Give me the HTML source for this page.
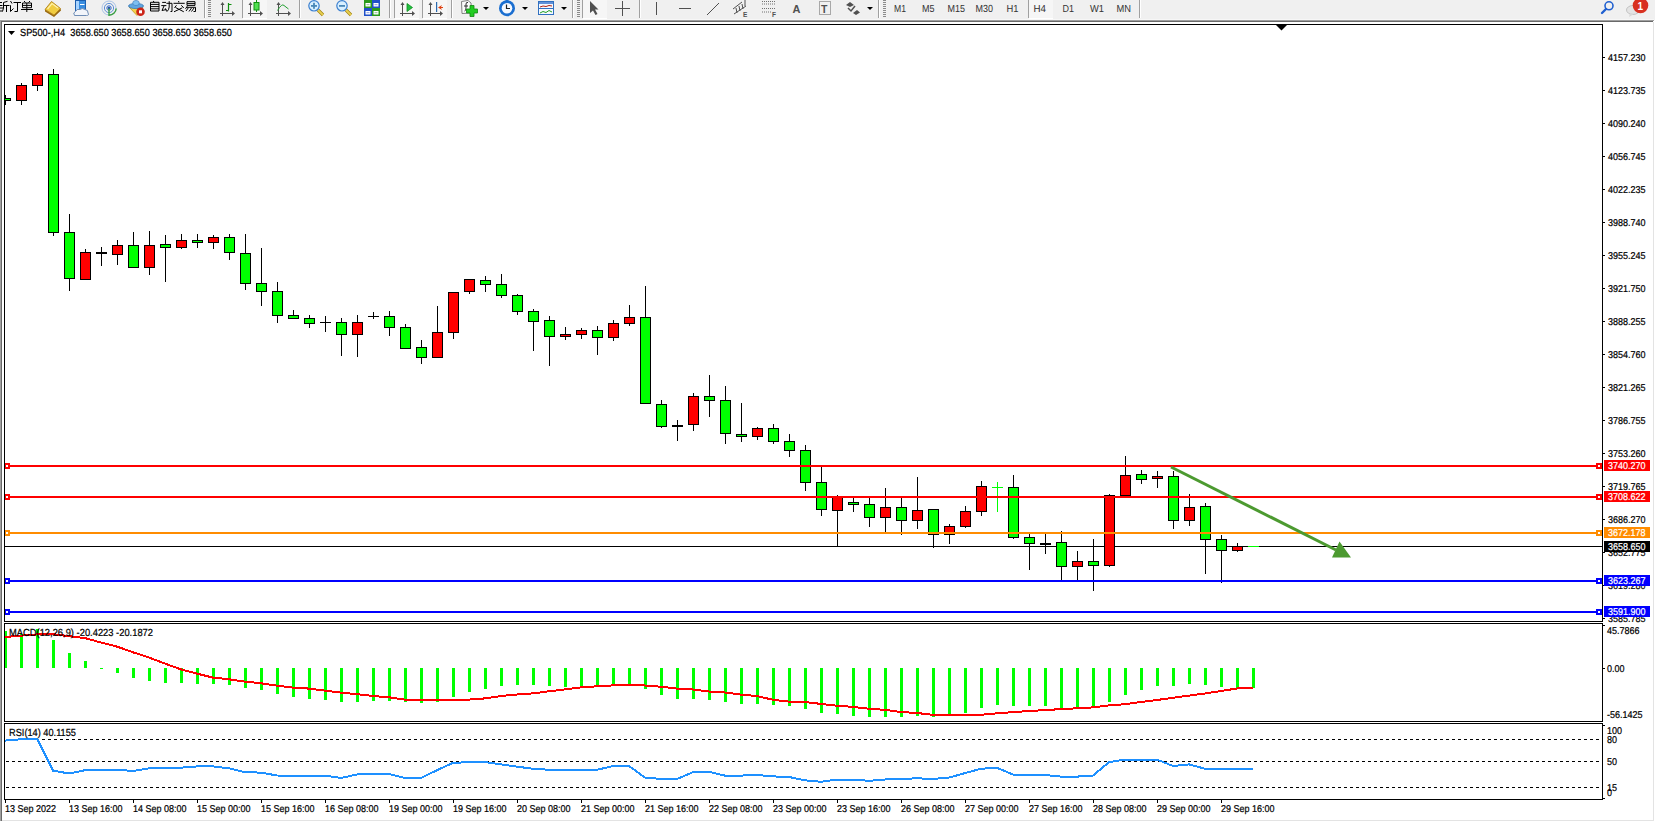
<!DOCTYPE html>
<html><head><meta charset="utf-8"><style>html,body{margin:0;padding:0;background:#fff;overflow:hidden}</style></head>
<body>
<svg width="1655" height="822" viewBox="0 0 1655 822" style="display:block;font-family:'Liberation Sans',sans-serif">
<rect x="0" y="0" width="1655" height="822" fill="#ffffff"/>
<rect x="0" y="0" width="1655" height="20" fill="#f0f0f0"/>
<rect x="0" y="19" width="1654" height="1" fill="#f7f7f7"/>
<rect x="0" y="20" width="1654" height="1" fill="#a0a0a0"/>
<rect x="0" y="21" width="1653" height="1" fill="#696969"/>
<rect x="0" y="20" width="1" height="801" fill="#a0a0a0"/>
<rect x="1" y="21" width="1" height="800" fill="#696969"/>
<rect x="1653" y="22" width="1" height="799" fill="#e3e3e3"/>
<rect x="2" y="820" width="1652" height="1" fill="#e3e3e3"/>
<g shape-rendering="crispEdges">
<rect x="4" y="24" width="1599" height="1" fill="#000"/>
<rect x="4" y="621" width="1599" height="1" fill="#000"/>
<rect x="4" y="24" width="1" height="598" fill="#000"/>
<rect x="1602" y="24" width="1" height="598" fill="#000"/>
<rect x="4" y="623" width="1599" height="1" fill="#000"/>
<rect x="4" y="721" width="1599" height="1" fill="#000"/>
<rect x="4" y="623" width="1" height="99" fill="#000"/>
<rect x="1602" y="623" width="1" height="99" fill="#000"/>
<rect x="4" y="723" width="1599" height="1" fill="#000"/>
<rect x="4" y="799" width="1599" height="1" fill="#000"/>
<rect x="4" y="723" width="1" height="77" fill="#000"/>
<rect x="1602" y="723" width="1" height="77" fill="#000"/>
</g>
<rect x="204" y="0" width="1" height="18" fill="#a0a0a0"/><rect x="205" y="0" width="1" height="18" fill="#ffffff"/>
<rect x="299" y="0" width="1" height="18" fill="#a0a0a0"/><rect x="300" y="0" width="1" height="18" fill="#ffffff"/>
<rect x="389" y="0" width="1" height="18" fill="#a0a0a0"/><rect x="390" y="0" width="1" height="18" fill="#ffffff"/>
<rect x="451" y="0" width="1" height="18" fill="#a0a0a0"/><rect x="452" y="0" width="1" height="18" fill="#ffffff"/>
<rect x="572" y="0" width="1" height="18" fill="#a0a0a0"/><rect x="573" y="0" width="1" height="18" fill="#ffffff"/>
<rect x="639" y="0" width="1" height="18" fill="#a0a0a0"/><rect x="640" y="0" width="1" height="18" fill="#ffffff"/>
<rect x="878" y="0" width="1" height="18" fill="#a0a0a0"/><rect x="879" y="0" width="1" height="18" fill="#ffffff"/>
<rect x="1139" y="0" width="1" height="18" fill="#a0a0a0"/><rect x="1140" y="0" width="1" height="18" fill="#ffffff"/>
<rect x="242" y="0" width="1" height="18" fill="#a0a0a0"/>
<rect x="394" y="0" width="1" height="18" fill="#a0a0a0"/>
<rect x="422" y="0" width="1" height="18" fill="#a0a0a0"/>
<rect x="582" y="0" width="1" height="18" fill="#a0a0a0"/>
<rect x="1028" y="0" width="1" height="18" fill="#a0a0a0"/>
<rect x="208" y="0" width="3" height="1" fill="#8a8a8a"/>
<rect x="208" y="2" width="3" height="1" fill="#8a8a8a"/>
<rect x="208" y="4" width="3" height="1" fill="#8a8a8a"/>
<rect x="208" y="6" width="3" height="1" fill="#8a8a8a"/>
<rect x="208" y="8" width="3" height="1" fill="#8a8a8a"/>
<rect x="208" y="10" width="3" height="1" fill="#8a8a8a"/>
<rect x="208" y="12" width="3" height="1" fill="#8a8a8a"/>
<rect x="208" y="14" width="3" height="1" fill="#8a8a8a"/>
<rect x="208" y="16" width="3" height="1" fill="#8a8a8a"/>
<rect x="577" y="0" width="3" height="1" fill="#8a8a8a"/>
<rect x="577" y="2" width="3" height="1" fill="#8a8a8a"/>
<rect x="577" y="4" width="3" height="1" fill="#8a8a8a"/>
<rect x="577" y="6" width="3" height="1" fill="#8a8a8a"/>
<rect x="577" y="8" width="3" height="1" fill="#8a8a8a"/>
<rect x="577" y="10" width="3" height="1" fill="#8a8a8a"/>
<rect x="577" y="12" width="3" height="1" fill="#8a8a8a"/>
<rect x="577" y="14" width="3" height="1" fill="#8a8a8a"/>
<rect x="577" y="16" width="3" height="1" fill="#8a8a8a"/>
<rect x="883" y="0" width="3" height="1" fill="#8a8a8a"/>
<rect x="883" y="2" width="3" height="1" fill="#8a8a8a"/>
<rect x="883" y="4" width="3" height="1" fill="#8a8a8a"/>
<rect x="883" y="6" width="3" height="1" fill="#8a8a8a"/>
<rect x="883" y="8" width="3" height="1" fill="#8a8a8a"/>
<rect x="883" y="10" width="3" height="1" fill="#8a8a8a"/>
<rect x="883" y="12" width="3" height="1" fill="#8a8a8a"/>
<rect x="883" y="14" width="3" height="1" fill="#8a8a8a"/>
<rect x="883" y="16" width="3" height="1" fill="#8a8a8a"/>
<rect x="243" y="0" width="24" height="18" fill="#f6f6f6"/>
<rect x="243" y="18" width="24" height="1" fill="#ffffff"/>
<rect x="395" y="0" width="24" height="18" fill="#f6f6f6"/>
<rect x="395" y="18" width="24" height="1" fill="#ffffff"/>
<rect x="423" y="0" width="24" height="18" fill="#f6f6f6"/>
<rect x="423" y="18" width="24" height="1" fill="#ffffff"/>
<rect x="583" y="0" width="24" height="18" fill="#f6f6f6"/>
<rect x="583" y="18" width="24" height="1" fill="#ffffff"/>
<rect x="1029" y="0" width="24" height="18" fill="#f6f6f6"/>
<rect x="1029" y="18" width="24" height="1" fill="#ffffff"/>
<path d="M0,2.5 L2,2.5 M0,5.5 L2.5,5.5 M0,8 L3,8 M0,11 L2.5,11 M3.5,2.5 L7.5,1.3 M3.5,2.5 L3.5,8 L2.5,11.5 M3.5,5.5 L9,5.5 M6.5,5.5 L6.5,12 M10.5,1 L12,3.5 M9.5,5.5 L10.5,5.5 L10.5,11.5 L13.5,8.5 M13.5,2.5 L21,2.5 M17.5,2.5 L17.5,11.5 L14.5,11.5 M24,1 L25.5,2.5 M30,1 L28.5,2.5 M22.5,3 L31.5,3 L31.5,7.7 L22.5,7.7 Z M22.5,5.4 L31.5,5.4 M26.8,3 L26.8,12 M21,9.5 L33,9.5 M153,1 L154.5,2.3 M150.5,2.3 L159,2.3 L159,11 L150.5,11 Z M150.5,4.4 L159,4.4 M150.5,6.6 L159,6.6 M150.5,8.8 L159,8.8 M162.2,2.4 L166,2.4 M161.3,5.6 L166.4,5.6 M164,6 L162,10.5 L166.3,9.5 M165.3,8.3 L166.5,11 M166.4,3.3 L172,3.3 L172,11.5 L170.5,11.5 M169.2,1.2 L169.2,7 Q169,10 166.7,11.8 M178.6,1 L178.9,2.5 M173.5,3.3 L184.7,3.3 M176.5,5.3 L174.5,7.8 M181.2,5.3 L183.8,7.8 M175.5,7.5 L183.8,11.8 M182.3,7.8 L174,11.8 M187,1.7 L195,1.7 L195,5.4 L187,5.4 Z M187,3.6 L195,3.6 M187.3,6.2 L185.5,8.8 M186.5,7.3 L195.5,7.3 L195.5,11.5 L193.5,11.5 M188.5,7.6 L186,11 M191.5,8 L189,11.5 M194,8 L191.5,11.5" fill="none" stroke="#000" stroke-width="1" stroke-linejoin="miter"/>
<path d="M45,9.5 L54,15 L60.5,8.5 L61,10.5 L54,17 L45,11.5 Z" fill="#9a6a10"/>
<path d="M45,9.5 L51.5,1.5 L60.5,8.5 L54,15 Z" fill="#f0cc40" stroke="#b08018" stroke-width="0.9"/>
<path d="M47.5,9 L52,3.5 L58,8" fill="none" stroke="#fff2a8" stroke-width="1.2"/>
<rect x="75.5" y="0.5" width="10" height="10" fill="#3a8ee0" stroke="#1c5fb0"/><rect x="76" y="1" width="3" height="9" fill="#a8d4ff"/><rect x="80" y="4" width="4.5" height="1" fill="#fff"/>
<path d="M74.5,15.5 Q72.5,12.5 75.5,11.5 Q76.5,8.5 80,9.5 Q82,7.5 85,9.5 Q88.5,10 88,13 Q89.5,15.5 86.5,15.5 Z" fill="#f2f5fa" stroke="#6f8db5" stroke-width="1"/>
<g fill="none" stroke-width="1"><circle cx="109" cy="8" r="7" stroke="#a9c3e6"/><circle cx="109" cy="8" r="4.6" stroke="#5e8fd6"/><circle cx="109" cy="8" r="2.2" stroke="#3a6fc8"/></g><circle cx="109" cy="8" r="1.3" fill="#2a55b0"/>
<path d="M109,8.5 L109,15.3 A7.2,7.2 0 0 0 116.2,8.5" fill="none" stroke="#3aa040" stroke-width="1.4"/>
<path d="M129,7 L143,7 L137,15.5 Z" fill="#f4d24a" stroke="#c09a20" stroke-width="0.8"/>
<ellipse cx="136" cy="6" rx="7.5" ry="2.6" fill="#5fa6e0" stroke="#3a78b8" stroke-width="0.8"/><ellipse cx="136" cy="3" rx="3.3" ry="2.6" fill="#7ec0f0" stroke="#3a78b8" stroke-width="0.6"/>
<circle cx="140.5" cy="11.8" r="4.3" fill="#cc2418"/><rect x="139" y="10.3" width="3" height="3" fill="#fff"/>
<rect x="222" y="3" width="1" height="13" fill="#505050"/><path d="M220.5,5 L222.5,2 L224.5,5" fill="#505050"/><rect x="220" y="13" width="13" height="1" fill="#505050"/><path d="M232,11 L235,13.5 L232,16" fill="#505050"/>
<path d="M228.5,3 L228.5,11.5 M228.5,4.5 L231.5,4.5 M228.5,10.5 L226,10.5" stroke="#109010" stroke-width="1.2" fill="none"/>
<rect x="250" y="3" width="1" height="13" fill="#505050"/><path d="M248.5,5 L250.5,2 L252.5,5" fill="#505050"/><rect x="248" y="13" width="13" height="1" fill="#505050"/><path d="M260,11 L263,13.5 L260,16" fill="#505050"/>
<rect x="256" y="0" width="1" height="12" fill="#109010"/><rect x="254" y="2.5" width="5" height="7.5" fill="#50e050" stroke="#109010" stroke-width="1"/>
<rect x="278" y="3" width="1" height="13" fill="#505050"/><path d="M276.5,5 L278.5,2 L280.5,5" fill="#505050"/><rect x="276" y="13" width="13" height="1" fill="#505050"/><path d="M288,11 L291,13.5 L288,16" fill="#505050"/>
<path d="M277.5,10.5 Q282,3 284,5.5 L288.5,9" stroke="#20a030" stroke-width="1" fill="none"/>
<line x1="318" y1="10" x2="323" y2="15" stroke="#a08010" stroke-width="3.2"/><line x1="318" y1="10" x2="323" y2="15" stroke="#e8d050" stroke-width="1.8"/>
<circle cx="314" cy="5.8" r="5.2" fill="#d8efff" stroke="#3a7fd0" stroke-width="1.2"/>
<rect x="311" y="5" width="6" height="1.8" fill="#4a88b8"/>
<rect x="313.1" y="2.8" width="1.8" height="6" fill="#4a88b8"/>
<line x1="346" y1="10" x2="351" y2="15" stroke="#a08010" stroke-width="3.2"/><line x1="346" y1="10" x2="351" y2="15" stroke="#e8d050" stroke-width="1.8"/>
<circle cx="342" cy="5.8" r="5.2" fill="#d8efff" stroke="#3a7fd0" stroke-width="1.2"/>
<rect x="339" y="5" width="6" height="1.8" fill="#4a88b8"/>
<g transform="translate(364,0)"><rect x="0" y="0" width="8" height="8" fill="#2a9a1a"/><rect x="8" y="0" width="8" height="8" fill="#2050c8"/><rect x="0" y="8" width="8" height="8" fill="#2050c8"/><rect x="8" y="8" width="8" height="8" fill="#2a9a1a"/><rect x="1.5" y="3" width="5" height="3.5" fill="#fff"/><rect x="9.5" y="3" width="5" height="3.5" fill="#fff"/><rect x="1.5" y="11" width="5" height="3.5" fill="#fff"/><rect x="9.5" y="11" width="5" height="3.5" fill="#fff"/><rect x="2.5" y="4.2" width="3" height="1" fill="#8fc08f"/><rect x="10.5" y="4.2" width="3" height="1" fill="#8fa0d8"/><rect x="2.5" y="12.2" width="3" height="1" fill="#8fa0d8"/><rect x="10.5" y="12.2" width="3" height="1" fill="#8fc08f"/></g>
<rect x="402" y="3" width="1" height="13" fill="#505050"/><path d="M400.5,5 L402.5,2 L404.5,5" fill="#505050"/><rect x="400" y="13" width="13" height="1" fill="#505050"/><path d="M412,11 L415,13.5 L412,16" fill="#505050"/>
<path d="M407,3.5 L412.5,7.5 L407,11.5 Z" fill="#20c040" stroke="#109020" stroke-width="0.8"/>
<rect x="430" y="3" width="1" height="13" fill="#505050"/><path d="M428.5,5 L430.5,2 L432.5,5" fill="#505050"/><rect x="428" y="13" width="13" height="1" fill="#505050"/><path d="M440,11 L443,13.5 L440,16" fill="#505050"/>
<rect x="436" y="2" width="1.2" height="10" fill="#2a6ab0"/><path d="M438,7.5 L442,5 L441,7 L443,7 L443,8 L441,8 L442,10 Z" fill="#e04010"/>
<g transform="translate(461,0)"><path d="M0.5,1.5 L7,0.5 L10,3 L10.5,13 L1,13.5 Z" fill="#fafafa" stroke="#808080" stroke-width="1"/><path d="M3.5,11 Q5,11 5,8 L5,4 Q5,2 7,2.5 M3,6 L7,6" stroke="#303030" stroke-width="1" fill="none"/><path d="M5.5,9 L9,9 L9,5.5 L13,5.5 L13,9 L16.5,9 L16.5,13 L13,13 L13,16.5 L9,16.5 L9,13 L5.5,13 Z" fill="#22cc22" stroke="#108810" stroke-width="0.8"/></g>
<path d="M483,7 L489,7 L486,10 Z" fill="#000"/>
<path d="M522,7 L528,7 L525,10 Z" fill="#000"/>
<path d="M561,7 L567,7 L564,10 Z" fill="#000"/>
<path d="M867,7 L873,7 L870,10 Z" fill="#000"/>
<circle cx="507" cy="8.2" r="8" fill="#1a6ed0"/><circle cx="507" cy="8.2" r="5.3" fill="#f4f8ff"/><path d="M506.5,4.5 L506.5,8.5 L510,8.5" stroke="#202020" stroke-width="1.2" fill="none"/><rect x="505.5" y="0" width="3" height="1.2" fill="#1a6ed0"/>
<g transform="translate(538,1)"><rect x="0.5" y="0.5" width="15" height="13" fill="#f4f8ff" stroke="#3070c0"/><rect x="1" y="1" width="14" height="2" fill="#6090d8"/><rect x="1" y="7" width="14" height="1" fill="#3070c0"/><path d="M2,6 L5,5 L8,5.5 L11,4.5 L14,5" stroke="#b02010" stroke-width="1" fill="none"/><path d="M2,12 L5,10.5 L8,11.5 L11,9.5 L14,11" stroke="#20a020" stroke-width="1" fill="none"/></g>
<path d="M590,1 L590,13 L593,10.5 L595.5,15 L597.5,14 L595,9.5 L598.5,9.5 Z" fill="#505050"/>
<rect x="622" y="1" width="1" height="15" fill="#505050"/><rect x="615" y="8" width="15" height="1" fill="#505050"/>
<rect x="656" y="2" width="1" height="13" fill="#505050"/><rect x="679" y="8" width="12" height="1" fill="#505050"/><line x1="707" y1="15" x2="719" y2="3" stroke="#505050" stroke-width="1"/>
<g stroke="#505050" stroke-width="1" fill="none"><line x1="733" y1="9" x2="742" y2="2"/><line x1="734" y1="14" x2="746" y2="6"/><line x1="736" y1="8" x2="737" y2="13"/><line x1="739" y1="6" x2="740" y2="11"/><line x1="742" y1="4" x2="743" y2="9"/><line x1="745" y1="0" x2="745" y2="6"/></g>
<text x="743" y="17" font-size="6.5" font-weight="bold" fill="#505050">E</text>
<line x1="762" y1="1.5" x2="775" y2="1.5" stroke="#707070" stroke-width="1" stroke-dasharray="1,1"/>
<line x1="762" y1="4" x2="775" y2="4" stroke="#707070" stroke-width="1" stroke-dasharray="1,1"/>
<line x1="762" y1="8.5" x2="775" y2="8.5" stroke="#707070" stroke-width="1" stroke-dasharray="1,1"/>
<line x1="762" y1="12" x2="771" y2="12" stroke="#707070" stroke-width="1" stroke-dasharray="1,1"/>
<text x="772" y="17" font-size="6.5" font-weight="bold" fill="#505050">F</text>
<text x="792.5" y="13" font-size="11" font-weight="bold" fill="#505050">A</text>
<rect x="819.5" y="1.5" width="11" height="13" fill="none" stroke="#606060" stroke-width="1" stroke-dasharray="1,1"/><text x="821" y="12.5" font-size="10.5" font-weight="bold" fill="#505050">T</text>
<path d="M846,5 L850,2 L854,5 L850,7 Z M853,13 L857,10 L860,12.5 L856,15 Z" fill="#505050"/><path d="M848,8 L851,11 L855,6" stroke="#505050" stroke-width="1.5" fill="none"/>
<text transform="translate(894,12) scale(1,1.1)" text-rendering="geometricPrecision" font-size="9.3" fill="#333" textLength="12" lengthAdjust="spacingAndGlyphs">M1</text>
<text transform="translate(922,12) scale(1,1.1)" text-rendering="geometricPrecision" font-size="9.3" fill="#333" textLength="12.5" lengthAdjust="spacingAndGlyphs">M5</text>
<text transform="translate(947.5,12) scale(1,1.1)" text-rendering="geometricPrecision" font-size="9.3" fill="#333" textLength="17.5" lengthAdjust="spacingAndGlyphs">M15</text>
<text transform="translate(975.5,12) scale(1,1.1)" text-rendering="geometricPrecision" font-size="9.3" fill="#333" textLength="17.5" lengthAdjust="spacingAndGlyphs">M30</text>
<text transform="translate(1006.5,12) scale(1,1.1)" text-rendering="geometricPrecision" font-size="9.3" fill="#333" textLength="12" lengthAdjust="spacingAndGlyphs">H1</text>
<text transform="translate(1033.5,12) scale(1,1.1)" text-rendering="geometricPrecision" font-size="9.3" fill="#333" textLength="12.5" lengthAdjust="spacingAndGlyphs">H4</text>
<text transform="translate(1062.5,12) scale(1,1.1)" text-rendering="geometricPrecision" font-size="9.3" fill="#333" textLength="11.5" lengthAdjust="spacingAndGlyphs">D1</text>
<text transform="translate(1090,12) scale(1,1.1)" text-rendering="geometricPrecision" font-size="9.3" fill="#333" textLength="14" lengthAdjust="spacingAndGlyphs">W1</text>
<text transform="translate(1116.5,12) scale(1,1.1)" text-rendering="geometricPrecision" font-size="9.3" fill="#333" textLength="14.5" lengthAdjust="spacingAndGlyphs">MN</text>
<circle cx="1609" cy="5.8" r="4" fill="none" stroke="#2060d0" stroke-width="1.6"/><line x1="1606" y1="9" x2="1602" y2="13" stroke="#2060d0" stroke-width="2.4" stroke-linecap="round"/>
<ellipse cx="1633" cy="10" rx="6.5" ry="4.5" fill="#e4e4e4" stroke="#b8b8b8" stroke-width="0.8"/><path d="M1630,13 L1629,17 L1634,14 Z" fill="#d8d8d8"/>
<circle cx="1640.5" cy="5.5" r="7.8" fill="#d83020"/><text x="1637.5" y="10" font-size="10" font-weight="bold" fill="#fff">1</text>
<svg x="5" y="25" width="1597" height="596" overflow="hidden"><g transform="translate(-5,-25)" shape-rendering="crispEdges">
<rect x="5" y="546" width="1597" height="1" fill="#000"/>
<rect x="5" y="95" width="1" height="3" fill="#000"/>
<rect x="5" y="101" width="1" height="4" fill="#000"/>
<rect x="0" y="98" width="11" height="3" fill="#000"/>
<rect x="1" y="99" width="9" height="1" fill="#00ff00"/>
<rect x="21" y="83" width="1" height="2" fill="#000"/>
<rect x="21" y="101" width="1" height="4" fill="#000"/>
<rect x="16" y="85" width="11" height="16" fill="#000"/>
<rect x="17" y="86" width="9" height="14" fill="#ff0000"/>
<rect x="37" y="73" width="1" height="1" fill="#000"/>
<rect x="37" y="86" width="1" height="5" fill="#000"/>
<rect x="32" y="74" width="11" height="12" fill="#000"/>
<rect x="33" y="75" width="9" height="10" fill="#ff0000"/>
<rect x="53" y="69" width="1" height="5" fill="#000"/>
<rect x="53" y="233" width="1" height="3" fill="#000"/>
<rect x="48" y="74" width="11" height="159" fill="#000"/>
<rect x="49" y="75" width="9" height="157" fill="#00ff00"/>
<rect x="69" y="214" width="1" height="18" fill="#000"/>
<rect x="69" y="279" width="1" height="12" fill="#000"/>
<rect x="64" y="232" width="11" height="47" fill="#000"/>
<rect x="65" y="233" width="9" height="45" fill="#00ff00"/>
<rect x="85" y="249" width="1" height="3" fill="#000"/>
<rect x="80" y="252" width="11" height="28" fill="#000"/>
<rect x="81" y="253" width="9" height="26" fill="#ff0000"/>
<rect x="101" y="247" width="1" height="19" fill="#000"/>
<rect x="96" y="252" width="11" height="2" fill="#000"/>
<rect x="117" y="240" width="1" height="5" fill="#000"/>
<rect x="117" y="255" width="1" height="10" fill="#000"/>
<rect x="112" y="245" width="11" height="10" fill="#000"/>
<rect x="113" y="246" width="9" height="8" fill="#ff0000"/>
<rect x="133" y="232" width="1" height="13" fill="#000"/>
<rect x="128" y="245" width="11" height="23" fill="#000"/>
<rect x="129" y="246" width="9" height="21" fill="#00ff00"/>
<rect x="149" y="231" width="1" height="14" fill="#000"/>
<rect x="149" y="268" width="1" height="7" fill="#000"/>
<rect x="144" y="245" width="11" height="23" fill="#000"/>
<rect x="145" y="246" width="9" height="21" fill="#ff0000"/>
<rect x="165" y="235" width="1" height="9" fill="#000"/>
<rect x="165" y="248" width="1" height="34" fill="#000"/>
<rect x="160" y="244" width="11" height="4" fill="#000"/>
<rect x="161" y="245" width="9" height="2" fill="#00ff00"/>
<rect x="181" y="234" width="1" height="6" fill="#000"/>
<rect x="181" y="248" width="1" height="1" fill="#000"/>
<rect x="176" y="240" width="11" height="8" fill="#000"/>
<rect x="177" y="241" width="9" height="6" fill="#ff0000"/>
<rect x="197" y="234" width="1" height="6" fill="#000"/>
<rect x="197" y="243" width="1" height="5" fill="#000"/>
<rect x="192" y="240" width="11" height="3" fill="#000"/>
<rect x="193" y="241" width="9" height="1" fill="#00ff00"/>
<rect x="213" y="235" width="1" height="2" fill="#000"/>
<rect x="213" y="243" width="1" height="6" fill="#000"/>
<rect x="208" y="237" width="11" height="6" fill="#000"/>
<rect x="209" y="238" width="9" height="4" fill="#ff0000"/>
<rect x="229" y="234" width="1" height="3" fill="#000"/>
<rect x="229" y="253" width="1" height="7" fill="#000"/>
<rect x="224" y="237" width="11" height="16" fill="#000"/>
<rect x="225" y="238" width="9" height="14" fill="#00ff00"/>
<rect x="245" y="234" width="1" height="19" fill="#000"/>
<rect x="245" y="284" width="1" height="6" fill="#000"/>
<rect x="240" y="253" width="11" height="31" fill="#000"/>
<rect x="241" y="254" width="9" height="29" fill="#00ff00"/>
<rect x="261" y="248" width="1" height="35" fill="#000"/>
<rect x="261" y="292" width="1" height="14" fill="#000"/>
<rect x="256" y="283" width="11" height="9" fill="#000"/>
<rect x="257" y="284" width="9" height="7" fill="#00ff00"/>
<rect x="277" y="282" width="1" height="9" fill="#000"/>
<rect x="277" y="316" width="1" height="7" fill="#000"/>
<rect x="272" y="291" width="11" height="25" fill="#000"/>
<rect x="273" y="292" width="9" height="23" fill="#00ff00"/>
<rect x="293" y="310" width="1" height="5" fill="#000"/>
<rect x="288" y="315" width="11" height="4" fill="#000"/>
<rect x="289" y="316" width="9" height="2" fill="#00ff00"/>
<rect x="309" y="315" width="1" height="3" fill="#000"/>
<rect x="309" y="324" width="1" height="4" fill="#000"/>
<rect x="304" y="318" width="11" height="6" fill="#000"/>
<rect x="305" y="319" width="9" height="4" fill="#00ff00"/>
<rect x="325" y="316" width="1" height="16" fill="#000"/>
<rect x="320" y="322" width="11" height="1" fill="#000"/>
<rect x="341" y="318" width="1" height="4" fill="#000"/>
<rect x="341" y="335" width="1" height="21" fill="#000"/>
<rect x="336" y="322" width="11" height="13" fill="#000"/>
<rect x="337" y="323" width="9" height="11" fill="#00ff00"/>
<rect x="357" y="315" width="1" height="7" fill="#000"/>
<rect x="357" y="335" width="1" height="22" fill="#000"/>
<rect x="352" y="322" width="11" height="13" fill="#000"/>
<rect x="353" y="323" width="9" height="11" fill="#ff0000"/>
<rect x="373" y="312" width="1" height="7" fill="#000"/>
<rect x="368" y="316" width="11" height="1" fill="#000"/>
<rect x="389" y="311" width="1" height="5" fill="#000"/>
<rect x="389" y="328" width="1" height="8" fill="#000"/>
<rect x="384" y="316" width="11" height="12" fill="#000"/>
<rect x="385" y="317" width="9" height="10" fill="#00ff00"/>
<rect x="405" y="324" width="1" height="3" fill="#000"/>
<rect x="400" y="327" width="11" height="22" fill="#000"/>
<rect x="401" y="328" width="9" height="20" fill="#00ff00"/>
<rect x="421" y="340" width="1" height="7" fill="#000"/>
<rect x="421" y="358" width="1" height="6" fill="#000"/>
<rect x="416" y="347" width="11" height="11" fill="#000"/>
<rect x="417" y="348" width="9" height="9" fill="#00ff00"/>
<rect x="437" y="306" width="1" height="26" fill="#000"/>
<rect x="432" y="332" width="11" height="26" fill="#000"/>
<rect x="433" y="333" width="9" height="24" fill="#ff0000"/>
<rect x="453" y="333" width="1" height="6" fill="#000"/>
<rect x="448" y="292" width="11" height="41" fill="#000"/>
<rect x="449" y="293" width="9" height="39" fill="#ff0000"/>
<rect x="469" y="292" width="1" height="2" fill="#000"/>
<rect x="464" y="279" width="11" height="13" fill="#000"/>
<rect x="465" y="280" width="9" height="11" fill="#ff0000"/>
<rect x="485" y="276" width="1" height="4" fill="#000"/>
<rect x="485" y="285" width="1" height="7" fill="#000"/>
<rect x="480" y="280" width="11" height="5" fill="#000"/>
<rect x="481" y="281" width="9" height="3" fill="#00ff00"/>
<rect x="501" y="274" width="1" height="10" fill="#000"/>
<rect x="501" y="296" width="1" height="2" fill="#000"/>
<rect x="496" y="284" width="11" height="12" fill="#000"/>
<rect x="497" y="285" width="9" height="10" fill="#00ff00"/>
<rect x="517" y="294" width="1" height="1" fill="#000"/>
<rect x="517" y="312" width="1" height="3" fill="#000"/>
<rect x="512" y="295" width="11" height="17" fill="#000"/>
<rect x="513" y="296" width="9" height="15" fill="#00ff00"/>
<rect x="533" y="309" width="1" height="2" fill="#000"/>
<rect x="533" y="322" width="1" height="29" fill="#000"/>
<rect x="528" y="311" width="11" height="11" fill="#000"/>
<rect x="529" y="312" width="9" height="9" fill="#00ff00"/>
<rect x="549" y="316" width="1" height="4" fill="#000"/>
<rect x="549" y="337" width="1" height="29" fill="#000"/>
<rect x="544" y="320" width="11" height="17" fill="#000"/>
<rect x="545" y="321" width="9" height="15" fill="#00ff00"/>
<rect x="565" y="327" width="1" height="7" fill="#000"/>
<rect x="565" y="337" width="1" height="3" fill="#000"/>
<rect x="560" y="334" width="11" height="3" fill="#000"/>
<rect x="561" y="335" width="9" height="1" fill="#ff0000"/>
<rect x="581" y="328" width="1" height="2" fill="#000"/>
<rect x="581" y="335" width="1" height="4" fill="#000"/>
<rect x="576" y="330" width="11" height="5" fill="#000"/>
<rect x="577" y="331" width="9" height="3" fill="#ff0000"/>
<rect x="597" y="326" width="1" height="4" fill="#000"/>
<rect x="597" y="338" width="1" height="17" fill="#000"/>
<rect x="592" y="330" width="11" height="8" fill="#000"/>
<rect x="593" y="331" width="9" height="6" fill="#00ff00"/>
<rect x="613" y="320" width="1" height="3" fill="#000"/>
<rect x="613" y="338" width="1" height="3" fill="#000"/>
<rect x="608" y="323" width="11" height="15" fill="#000"/>
<rect x="609" y="324" width="9" height="13" fill="#ff0000"/>
<rect x="629" y="305" width="1" height="12" fill="#000"/>
<rect x="629" y="324" width="1" height="2" fill="#000"/>
<rect x="624" y="317" width="11" height="7" fill="#000"/>
<rect x="625" y="318" width="9" height="5" fill="#ff0000"/>
<rect x="645" y="286" width="1" height="31" fill="#000"/>
<rect x="640" y="317" width="11" height="87" fill="#000"/>
<rect x="641" y="318" width="9" height="85" fill="#00ff00"/>
<rect x="661" y="400" width="1" height="4" fill="#000"/>
<rect x="661" y="427" width="1" height="1" fill="#000"/>
<rect x="656" y="404" width="11" height="23" fill="#000"/>
<rect x="657" y="405" width="9" height="21" fill="#00ff00"/>
<rect x="677" y="420" width="1" height="21" fill="#000"/>
<rect x="672" y="425" width="11" height="2" fill="#000"/>
<rect x="693" y="393" width="1" height="3" fill="#000"/>
<rect x="693" y="425" width="1" height="6" fill="#000"/>
<rect x="688" y="396" width="11" height="29" fill="#000"/>
<rect x="689" y="397" width="9" height="27" fill="#ff0000"/>
<rect x="709" y="375" width="1" height="21" fill="#000"/>
<rect x="709" y="401" width="1" height="16" fill="#000"/>
<rect x="704" y="396" width="11" height="5" fill="#000"/>
<rect x="705" y="397" width="9" height="3" fill="#00ff00"/>
<rect x="725" y="386" width="1" height="14" fill="#000"/>
<rect x="725" y="434" width="1" height="10" fill="#000"/>
<rect x="720" y="400" width="11" height="34" fill="#000"/>
<rect x="721" y="401" width="9" height="32" fill="#00ff00"/>
<rect x="741" y="403" width="1" height="31" fill="#000"/>
<rect x="741" y="437" width="1" height="5" fill="#000"/>
<rect x="736" y="434" width="11" height="3" fill="#000"/>
<rect x="737" y="435" width="9" height="1" fill="#00ff00"/>
<rect x="757" y="427" width="1" height="1" fill="#000"/>
<rect x="757" y="437" width="1" height="3" fill="#000"/>
<rect x="752" y="428" width="11" height="9" fill="#000"/>
<rect x="753" y="429" width="9" height="7" fill="#ff0000"/>
<rect x="773" y="424" width="1" height="4" fill="#000"/>
<rect x="773" y="442" width="1" height="2" fill="#000"/>
<rect x="768" y="428" width="11" height="14" fill="#000"/>
<rect x="769" y="429" width="9" height="12" fill="#00ff00"/>
<rect x="789" y="434" width="1" height="7" fill="#000"/>
<rect x="789" y="451" width="1" height="6" fill="#000"/>
<rect x="784" y="441" width="11" height="10" fill="#000"/>
<rect x="785" y="442" width="9" height="8" fill="#00ff00"/>
<rect x="805" y="445" width="1" height="5" fill="#000"/>
<rect x="805" y="483" width="1" height="8" fill="#000"/>
<rect x="800" y="450" width="11" height="33" fill="#000"/>
<rect x="801" y="451" width="9" height="31" fill="#00ff00"/>
<rect x="821" y="467" width="1" height="15" fill="#000"/>
<rect x="821" y="510" width="1" height="6" fill="#000"/>
<rect x="816" y="482" width="11" height="28" fill="#000"/>
<rect x="817" y="483" width="9" height="26" fill="#00ff00"/>
<rect x="837" y="495" width="1" height="2" fill="#000"/>
<rect x="837" y="511" width="1" height="36" fill="#000"/>
<rect x="832" y="497" width="11" height="14" fill="#000"/>
<rect x="833" y="498" width="9" height="12" fill="#ff0000"/>
<rect x="853" y="498" width="1" height="4" fill="#000"/>
<rect x="853" y="505" width="1" height="7" fill="#000"/>
<rect x="848" y="502" width="11" height="3" fill="#000"/>
<rect x="849" y="503" width="9" height="1" fill="#00ff00"/>
<rect x="869" y="497" width="1" height="7" fill="#000"/>
<rect x="869" y="518" width="1" height="9" fill="#000"/>
<rect x="864" y="504" width="11" height="14" fill="#000"/>
<rect x="865" y="505" width="9" height="12" fill="#00ff00"/>
<rect x="885" y="488" width="1" height="19" fill="#000"/>
<rect x="885" y="518" width="1" height="14" fill="#000"/>
<rect x="880" y="507" width="11" height="11" fill="#000"/>
<rect x="881" y="508" width="9" height="9" fill="#ff0000"/>
<rect x="901" y="497" width="1" height="10" fill="#000"/>
<rect x="901" y="521" width="1" height="14" fill="#000"/>
<rect x="896" y="507" width="11" height="14" fill="#000"/>
<rect x="897" y="508" width="9" height="12" fill="#00ff00"/>
<rect x="917" y="477" width="1" height="33" fill="#000"/>
<rect x="917" y="521" width="1" height="8" fill="#000"/>
<rect x="912" y="510" width="11" height="11" fill="#000"/>
<rect x="913" y="511" width="9" height="9" fill="#ff0000"/>
<rect x="933" y="535" width="1" height="13" fill="#000"/>
<rect x="928" y="509" width="11" height="26" fill="#000"/>
<rect x="929" y="510" width="9" height="24" fill="#00ff00"/>
<rect x="949" y="524" width="1" height="2" fill="#000"/>
<rect x="949" y="535" width="1" height="9" fill="#000"/>
<rect x="944" y="526" width="11" height="9" fill="#000"/>
<rect x="945" y="527" width="9" height="7" fill="#ff0000"/>
<rect x="965" y="506" width="1" height="5" fill="#000"/>
<rect x="965" y="527" width="1" height="1" fill="#000"/>
<rect x="960" y="511" width="11" height="16" fill="#000"/>
<rect x="961" y="512" width="9" height="14" fill="#ff0000"/>
<rect x="981" y="481" width="1" height="5" fill="#000"/>
<rect x="981" y="512" width="1" height="4" fill="#000"/>
<rect x="976" y="486" width="11" height="26" fill="#000"/>
<rect x="977" y="487" width="9" height="24" fill="#ff0000"/>
<rect x="997" y="482" width="1" height="30" fill="#00ff00"/>
<rect x="992" y="487" width="11" height="1" fill="#00ff00"/>
<rect x="1013" y="475" width="1" height="12" fill="#000"/>
<rect x="1013" y="538" width="1" height="1" fill="#000"/>
<rect x="1008" y="487" width="11" height="51" fill="#000"/>
<rect x="1009" y="488" width="9" height="49" fill="#00ff00"/>
<rect x="1029" y="533" width="1" height="4" fill="#000"/>
<rect x="1029" y="544" width="1" height="26" fill="#000"/>
<rect x="1024" y="537" width="11" height="7" fill="#000"/>
<rect x="1025" y="538" width="9" height="5" fill="#00ff00"/>
<rect x="1045" y="534" width="1" height="20" fill="#000"/>
<rect x="1040" y="543" width="11" height="2" fill="#000"/>
<rect x="1061" y="531" width="1" height="11" fill="#000"/>
<rect x="1061" y="567" width="1" height="14" fill="#000"/>
<rect x="1056" y="542" width="11" height="25" fill="#000"/>
<rect x="1057" y="543" width="9" height="23" fill="#00ff00"/>
<rect x="1077" y="551" width="1" height="10" fill="#000"/>
<rect x="1077" y="567" width="1" height="14" fill="#000"/>
<rect x="1072" y="561" width="11" height="6" fill="#000"/>
<rect x="1073" y="562" width="9" height="4" fill="#ff0000"/>
<rect x="1093" y="539" width="1" height="22" fill="#000"/>
<rect x="1093" y="566" width="1" height="25" fill="#000"/>
<rect x="1088" y="561" width="11" height="5" fill="#000"/>
<rect x="1089" y="562" width="9" height="3" fill="#00ff00"/>
<rect x="1109" y="494" width="1" height="1" fill="#000"/>
<rect x="1109" y="566" width="1" height="1" fill="#000"/>
<rect x="1104" y="495" width="11" height="71" fill="#000"/>
<rect x="1105" y="496" width="9" height="69" fill="#ff0000"/>
<rect x="1125" y="456" width="1" height="19" fill="#000"/>
<rect x="1120" y="475" width="11" height="21" fill="#000"/>
<rect x="1121" y="476" width="9" height="19" fill="#ff0000"/>
<rect x="1141" y="470" width="1" height="4" fill="#000"/>
<rect x="1141" y="480" width="1" height="4" fill="#000"/>
<rect x="1136" y="474" width="11" height="6" fill="#000"/>
<rect x="1137" y="475" width="9" height="4" fill="#00ff00"/>
<rect x="1157" y="471" width="1" height="5" fill="#000"/>
<rect x="1157" y="479" width="1" height="9" fill="#000"/>
<rect x="1152" y="476" width="11" height="3" fill="#000"/>
<rect x="1153" y="477" width="9" height="1" fill="#ff0000"/>
<rect x="1173" y="471" width="1" height="5" fill="#000"/>
<rect x="1173" y="521" width="1" height="8" fill="#000"/>
<rect x="1168" y="476" width="11" height="45" fill="#000"/>
<rect x="1169" y="477" width="9" height="43" fill="#00ff00"/>
<rect x="1189" y="494" width="1" height="13" fill="#000"/>
<rect x="1189" y="521" width="1" height="5" fill="#000"/>
<rect x="1184" y="507" width="11" height="14" fill="#000"/>
<rect x="1185" y="508" width="9" height="12" fill="#ff0000"/>
<rect x="1205" y="503" width="1" height="3" fill="#000"/>
<rect x="1205" y="540" width="1" height="34" fill="#000"/>
<rect x="1200" y="506" width="11" height="34" fill="#000"/>
<rect x="1201" y="507" width="9" height="32" fill="#00ff00"/>
<rect x="1221" y="535" width="1" height="4" fill="#000"/>
<rect x="1221" y="551" width="1" height="32" fill="#000"/>
<rect x="1216" y="539" width="11" height="12" fill="#000"/>
<rect x="1217" y="540" width="9" height="10" fill="#00ff00"/>
<rect x="1237" y="543" width="1" height="3" fill="#000"/>
<rect x="1237" y="551" width="1" height="1" fill="#000"/>
<rect x="1232" y="546" width="11" height="5" fill="#000"/>
<rect x="1233" y="547" width="9" height="3" fill="#ff0000"/>
<rect x="1248" y="546" width="11" height="1" fill="#00ff00"/>
<rect x="5" y="465" width="1597" height="2" fill="#ff0000"/>
<rect x="4" y="463" width="6" height="6" fill="#ff0000"/>
<rect x="6" y="465" width="2" height="2" fill="#ffffff"/>
<rect x="1596" y="463" width="6" height="6" fill="#ff0000"/>
<rect x="1598" y="465" width="2" height="2" fill="#ffffff"/>
<rect x="5" y="496" width="1597" height="2" fill="#ff0000"/>
<rect x="4" y="494" width="6" height="6" fill="#ff0000"/>
<rect x="6" y="496" width="2" height="2" fill="#ffffff"/>
<rect x="1596" y="494" width="6" height="6" fill="#ff0000"/>
<rect x="1598" y="496" width="2" height="2" fill="#ffffff"/>
<rect x="5" y="532" width="1597" height="2" fill="#ff8c00"/>
<rect x="4" y="530" width="6" height="6" fill="#ff8c00"/>
<rect x="6" y="532" width="2" height="2" fill="#ffffff"/>
<rect x="1596" y="530" width="6" height="6" fill="#ff8c00"/>
<rect x="1598" y="532" width="2" height="2" fill="#ffffff"/>
<rect x="5" y="580" width="1597" height="2" fill="#0000ff"/>
<rect x="4" y="578" width="6" height="6" fill="#0000ff"/>
<rect x="6" y="580" width="2" height="2" fill="#ffffff"/>
<rect x="1596" y="578" width="6" height="6" fill="#0000ff"/>
<rect x="1598" y="580" width="2" height="2" fill="#ffffff"/>
<rect x="5" y="611" width="1597" height="2" fill="#0000ff"/>
<rect x="4" y="609" width="6" height="6" fill="#0000ff"/>
<rect x="6" y="611" width="2" height="2" fill="#ffffff"/>
<rect x="1596" y="609" width="6" height="6" fill="#0000ff"/>
<rect x="1598" y="611" width="2" height="2" fill="#ffffff"/>
<line x1="1171" y1="467" x2="1336" y2="550" stroke="#4c9a30" stroke-width="3" shape-rendering="auto"/>
<polygon points="1339.5,541.5 1332,557.5 1351,557.5" fill="#4c9a30" shape-rendering="auto"/>
</g>
</svg>
<polygon points="1276,25 1287,25 1281.5,30.5" fill="#000"/>
<polygon points="8,31 15,31 11.5,35" fill="#000"/>
<text transform="translate(20,36) scale(1,1.1)" x="0" y="0" text-rendering="geometricPrecision" stroke-width="0.2" stroke="#000" font-size="9.3" fill="#000" xml:space="preserve" textLength="212" lengthAdjust="spacingAndGlyphs">SP500-,H4  3658.650 3658.650 3658.650 3658.650</text>
<svg x="5" y="624" width="1597" height="97" overflow="hidden"><g transform="translate(-5,-624)" shape-rendering="crispEdges">
<rect x="4" y="631" width="3" height="37" fill="#00ff00"/>
<rect x="20" y="634" width="3" height="34" fill="#00ff00"/>
<rect x="36" y="629" width="3" height="39" fill="#00ff00"/>
<rect x="52" y="640" width="3" height="28" fill="#00ff00"/>
<rect x="68" y="653" width="3" height="15" fill="#00ff00"/>
<rect x="84" y="661" width="3" height="7" fill="#00ff00"/>
<rect x="100" y="668" width="3" height="1" fill="#00ff00"/>
<rect x="116" y="668" width="3" height="5" fill="#00ff00"/>
<rect x="132" y="668" width="3" height="10" fill="#00ff00"/>
<rect x="148" y="668" width="3" height="13" fill="#00ff00"/>
<rect x="164" y="668" width="3" height="15" fill="#00ff00"/>
<rect x="180" y="668" width="3" height="15" fill="#00ff00"/>
<rect x="196" y="668" width="3" height="16" fill="#00ff00"/>
<rect x="212" y="668" width="3" height="16" fill="#00ff00"/>
<rect x="228" y="668" width="3" height="17" fill="#00ff00"/>
<rect x="244" y="668" width="3" height="20" fill="#00ff00"/>
<rect x="260" y="668" width="3" height="22" fill="#00ff00"/>
<rect x="276" y="668" width="3" height="26" fill="#00ff00"/>
<rect x="292" y="668" width="3" height="29" fill="#00ff00"/>
<rect x="308" y="668" width="3" height="31" fill="#00ff00"/>
<rect x="324" y="668" width="3" height="32" fill="#00ff00"/>
<rect x="340" y="668" width="3" height="34" fill="#00ff00"/>
<rect x="356" y="668" width="3" height="34" fill="#00ff00"/>
<rect x="372" y="668" width="3" height="33" fill="#00ff00"/>
<rect x="388" y="668" width="3" height="33" fill="#00ff00"/>
<rect x="404" y="668" width="3" height="34" fill="#00ff00"/>
<rect x="420" y="668" width="3" height="35" fill="#00ff00"/>
<rect x="436" y="668" width="3" height="34" fill="#00ff00"/>
<rect x="452" y="668" width="3" height="29" fill="#00ff00"/>
<rect x="468" y="668" width="3" height="24" fill="#00ff00"/>
<rect x="484" y="668" width="3" height="21" fill="#00ff00"/>
<rect x="500" y="668" width="3" height="18" fill="#00ff00"/>
<rect x="516" y="668" width="3" height="17" fill="#00ff00"/>
<rect x="532" y="668" width="3" height="17" fill="#00ff00"/>
<rect x="548" y="668" width="3" height="18" fill="#00ff00"/>
<rect x="564" y="668" width="3" height="19" fill="#00ff00"/>
<rect x="580" y="668" width="3" height="18" fill="#00ff00"/>
<rect x="596" y="668" width="3" height="18" fill="#00ff00"/>
<rect x="612" y="668" width="3" height="17" fill="#00ff00"/>
<rect x="628" y="668" width="3" height="16" fill="#00ff00"/>
<rect x="644" y="668" width="3" height="21" fill="#00ff00"/>
<rect x="660" y="668" width="3" height="27" fill="#00ff00"/>
<rect x="676" y="668" width="3" height="31" fill="#00ff00"/>
<rect x="692" y="668" width="3" height="31" fill="#00ff00"/>
<rect x="708" y="668" width="3" height="32" fill="#00ff00"/>
<rect x="724" y="668" width="3" height="34" fill="#00ff00"/>
<rect x="740" y="668" width="3" height="36" fill="#00ff00"/>
<rect x="756" y="668" width="3" height="36" fill="#00ff00"/>
<rect x="772" y="668" width="3" height="37" fill="#00ff00"/>
<rect x="788" y="668" width="3" height="38" fill="#00ff00"/>
<rect x="804" y="668" width="3" height="41" fill="#00ff00"/>
<rect x="820" y="668" width="3" height="45" fill="#00ff00"/>
<rect x="836" y="668" width="3" height="46" fill="#00ff00"/>
<rect x="852" y="668" width="3" height="48" fill="#00ff00"/>
<rect x="868" y="668" width="3" height="49" fill="#00ff00"/>
<rect x="884" y="668" width="3" height="49" fill="#00ff00"/>
<rect x="900" y="668" width="3" height="49" fill="#00ff00"/>
<rect x="916" y="668" width="3" height="48" fill="#00ff00"/>
<rect x="932" y="668" width="3" height="49" fill="#00ff00"/>
<rect x="948" y="668" width="3" height="46" fill="#00ff00"/>
<rect x="964" y="668" width="3" height="45" fill="#00ff00"/>
<rect x="980" y="668" width="3" height="40" fill="#00ff00"/>
<rect x="996" y="668" width="3" height="37" fill="#00ff00"/>
<rect x="1012" y="668" width="3" height="38" fill="#00ff00"/>
<rect x="1028" y="668" width="3" height="38" fill="#00ff00"/>
<rect x="1044" y="668" width="3" height="38" fill="#00ff00"/>
<rect x="1060" y="668" width="3" height="40" fill="#00ff00"/>
<rect x="1076" y="668" width="3" height="40" fill="#00ff00"/>
<rect x="1092" y="668" width="3" height="39" fill="#00ff00"/>
<rect x="1108" y="668" width="3" height="34" fill="#00ff00"/>
<rect x="1124" y="668" width="3" height="27" fill="#00ff00"/>
<rect x="1140" y="668" width="3" height="22" fill="#00ff00"/>
<rect x="1156" y="668" width="3" height="18" fill="#00ff00"/>
<rect x="1172" y="668" width="3" height="18" fill="#00ff00"/>
<rect x="1188" y="668" width="3" height="16" fill="#00ff00"/>
<rect x="1204" y="668" width="3" height="17" fill="#00ff00"/>
<rect x="1220" y="668" width="3" height="19" fill="#00ff00"/>
<rect x="1236" y="668" width="3" height="20" fill="#00ff00"/>
<rect x="1252" y="668" width="3" height="20" fill="#00ff00"/>
<polyline points="5,637 21,635.7 37,634.4 53,634.2 69,636.2 85,638.1 101,642.5 117,646.6 133,652.3 149,657.5 165,663.6 181,669.4 197,673.6 213,677.6 229,679.3 245,681.6 261,683.3 277,685.6 293,687.6 309,688.6 325,690.6 341,692.6 357,694.2 373,696 389,697.3 405,699.6 421,700 437,700 453,700 469,699.6 485,698.4 501,696 517,694.5 533,693.4 549,691.3 565,689.4 581,687.4 597,686.3 613,685.4 629,684.6 645,685.5 661,686.7 677,688.6 693,689.5 709,691.5 725,692.5 741,694.6 757,696.1 773,699.8 789,701.6 805,702.1 821,703.9 837,705.7 853,706.9 869,708.7 885,709.9 901,712 917,713 933,714.8 949,715 965,715 981,714.8 997,713.3 1013,712.1 1029,711 1045,710.1 1061,709.1 1077,708.3 1093,707.4 1109,705.4 1125,704.2 1141,702 1157,700 1173,697.8 1189,695.6 1205,693.5 1221,691 1237,688.5 1253,687.6" fill="none" stroke="#ff0000" stroke-width="2"/>
</g></svg>
<text transform="translate(9,636) scale(1,1.1)" x="0" y="0" text-rendering="geometricPrecision" stroke-width="0.2" stroke="#000" font-size="9.3" fill="#000" textLength="144" lengthAdjust="spacingAndGlyphs">MACD(12,26,9) -20.4223 -20.1872</text>
<svg x="5" y="724" width="1597" height="75" overflow="hidden"><g transform="translate(-5,-724)" shape-rendering="crispEdges">
<line x1="6" y1="739.5" x2="1600" y2="739.5" stroke="#000" stroke-width="1" stroke-dasharray="3,3"/>
<line x1="6" y1="761.5" x2="1600" y2="761.5" stroke="#000" stroke-width="1" stroke-dasharray="3,3"/>
<line x1="6" y1="787.5" x2="1600" y2="787.5" stroke="#000" stroke-width="1" stroke-dasharray="3,3"/>
<polyline points="5,740.6 21,739.3 37,738.7 53,770.6 69,773.5 85,770.2 101,769.7 117,769.7 133,771 149,768.3 165,767.7 181,767.7 197,766.4 213,766.4 229,768.3 245,772.2 261,772.6 277,775.5 293,775.8 309,775.8 325,775.6 341,778 357,774.5 373,774 389,774 405,778 421,778 437,770.2 453,762.9 469,762.1 485,762.1 501,764.4 517,766.7 533,768.7 549,769.8 565,769.8 581,769.8 597,769.8 613,766 629,766 645,777.6 661,778.9 677,778.9 693,772.2 709,771.8 725,775.6 741,775.6 757,775 773,776.4 789,777 805,780.3 821,781.8 837,779.5 853,779.5 869,780.9 885,779.5 901,778.9 917,778.3 933,778.9 949,777.6 965,773.1 981,768.7 997,767.9 1013,774.5 1029,775 1045,775 1061,776.6 1077,776.6 1093,775.6 1109,762.1 1125,759.6 1141,759.6 1157,759.6 1173,766 1189,764.4 1205,768.7 1221,769.3 1237,769.3 1253,769.3" fill="none" stroke="#1e90ff" stroke-width="2"/>
</g></svg>
<text transform="translate(9,736) scale(1,1.1)" x="0" y="0" text-rendering="geometricPrecision" stroke-width="0.2" stroke="#000" font-size="9.3" fill="#000" textLength="67" lengthAdjust="spacingAndGlyphs">RSI(14) 40.1155</text>
<g shape-rendering="crispEdges">
<rect x="1603" y="57" width="2" height="1" fill="#000"/>
<rect x="1603" y="90" width="2" height="1" fill="#000"/>
<rect x="1603" y="123" width="2" height="1" fill="#000"/>
<rect x="1603" y="156" width="2" height="1" fill="#000"/>
<rect x="1603" y="189" width="2" height="1" fill="#000"/>
<rect x="1603" y="222" width="2" height="1" fill="#000"/>
<rect x="1603" y="255" width="2" height="1" fill="#000"/>
<rect x="1603" y="288" width="2" height="1" fill="#000"/>
<rect x="1603" y="321" width="2" height="1" fill="#000"/>
<rect x="1603" y="354" width="2" height="1" fill="#000"/>
<rect x="1603" y="387" width="2" height="1" fill="#000"/>
<rect x="1603" y="420" width="2" height="1" fill="#000"/>
<rect x="1603" y="453" width="2" height="1" fill="#000"/>
<rect x="1603" y="486" width="2" height="1" fill="#000"/>
<rect x="1603" y="519" width="2" height="1" fill="#000"/>
<rect x="1603" y="552" width="2" height="1" fill="#000"/>
<rect x="1603" y="585" width="2" height="1" fill="#000"/>
<rect x="1603" y="618" width="2" height="1" fill="#000"/>
</g>
<text transform="translate(1608,61) scale(1,1.1)" x="0" y="0" text-rendering="geometricPrecision" stroke-width="0.2" stroke="#000" font-size="9" fill="#000">4157.230</text>
<text transform="translate(1608,94) scale(1,1.1)" x="0" y="0" text-rendering="geometricPrecision" stroke-width="0.2" stroke="#000" font-size="9" fill="#000">4123.735</text>
<text transform="translate(1608,127) scale(1,1.1)" x="0" y="0" text-rendering="geometricPrecision" stroke-width="0.2" stroke="#000" font-size="9" fill="#000">4090.240</text>
<text transform="translate(1608,160) scale(1,1.1)" x="0" y="0" text-rendering="geometricPrecision" stroke-width="0.2" stroke="#000" font-size="9" fill="#000">4056.745</text>
<text transform="translate(1608,193) scale(1,1.1)" x="0" y="0" text-rendering="geometricPrecision" stroke-width="0.2" stroke="#000" font-size="9" fill="#000">4022.235</text>
<text transform="translate(1608,226) scale(1,1.1)" x="0" y="0" text-rendering="geometricPrecision" stroke-width="0.2" stroke="#000" font-size="9" fill="#000">3988.740</text>
<text transform="translate(1608,259) scale(1,1.1)" x="0" y="0" text-rendering="geometricPrecision" stroke-width="0.2" stroke="#000" font-size="9" fill="#000">3955.245</text>
<text transform="translate(1608,292) scale(1,1.1)" x="0" y="0" text-rendering="geometricPrecision" stroke-width="0.2" stroke="#000" font-size="9" fill="#000">3921.750</text>
<text transform="translate(1608,325) scale(1,1.1)" x="0" y="0" text-rendering="geometricPrecision" stroke-width="0.2" stroke="#000" font-size="9" fill="#000">3888.255</text>
<text transform="translate(1608,358) scale(1,1.1)" x="0" y="0" text-rendering="geometricPrecision" stroke-width="0.2" stroke="#000" font-size="9" fill="#000">3854.760</text>
<text transform="translate(1608,391) scale(1,1.1)" x="0" y="0" text-rendering="geometricPrecision" stroke-width="0.2" stroke="#000" font-size="9" fill="#000">3821.265</text>
<text transform="translate(1608,424) scale(1,1.1)" x="0" y="0" text-rendering="geometricPrecision" stroke-width="0.2" stroke="#000" font-size="9" fill="#000">3786.755</text>
<text transform="translate(1608,457) scale(1,1.1)" x="0" y="0" text-rendering="geometricPrecision" stroke-width="0.2" stroke="#000" font-size="9" fill="#000">3753.260</text>
<text transform="translate(1608,490) scale(1,1.1)" x="0" y="0" text-rendering="geometricPrecision" stroke-width="0.2" stroke="#000" font-size="9" fill="#000">3719.765</text>
<text transform="translate(1608,523) scale(1,1.1)" x="0" y="0" text-rendering="geometricPrecision" stroke-width="0.2" stroke="#000" font-size="9" fill="#000">3686.270</text>
<text transform="translate(1608,556) scale(1,1.1)" x="0" y="0" text-rendering="geometricPrecision" stroke-width="0.2" stroke="#000" font-size="9" fill="#000">3652.775</text>
<text transform="translate(1608,589) scale(1,1.1)" x="0" y="0" text-rendering="geometricPrecision" stroke-width="0.2" stroke="#000" font-size="9" fill="#000">3619.280</text>
<text transform="translate(1608,622) scale(1,1.1)" x="0" y="0" text-rendering="geometricPrecision" stroke-width="0.2" stroke="#000" font-size="9" fill="#000">3585.785</text>
<rect x="1604" y="460" width="46" height="11" fill="#ff0000"/>
<text transform="translate(1608,469) scale(1,1.1)" x="0" y="0" text-rendering="geometricPrecision" stroke-width="0.2" stroke="#fff" font-size="9" fill="#fff">3740.270</text>
<rect x="1604" y="491" width="46" height="11" fill="#ff0000"/>
<text transform="translate(1608,500) scale(1,1.1)" x="0" y="0" text-rendering="geometricPrecision" stroke-width="0.2" stroke="#fff" font-size="9" fill="#fff">3708.622</text>
<rect x="1604" y="527" width="46" height="11" fill="#ff8c00"/>
<text transform="translate(1608,536) scale(1,1.1)" x="0" y="0" text-rendering="geometricPrecision" stroke-width="0.2" stroke="#fff" font-size="9" fill="#fff">3672.178</text>
<rect x="1604" y="541" width="46" height="11" fill="#000000"/>
<text transform="translate(1608,550) scale(1,1.1)" x="0" y="0" text-rendering="geometricPrecision" stroke-width="0.2" stroke="#fff" font-size="9" fill="#fff">3658.650</text>
<rect x="1604" y="575" width="46" height="11" fill="#0000ff"/>
<text transform="translate(1608,584) scale(1,1.1)" x="0" y="0" text-rendering="geometricPrecision" stroke-width="0.2" stroke="#fff" font-size="9" fill="#fff">3623.267</text>
<rect x="1604" y="606" width="46" height="11" fill="#0000ff"/>
<text transform="translate(1608,615) scale(1,1.1)" x="0" y="0" text-rendering="geometricPrecision" stroke-width="0.2" stroke="#fff" font-size="9" fill="#fff">3591.900</text>
<g shape-rendering="crispEdges">
<rect x="1603" y="625" width="2" height="1" fill="#000"/>
<rect x="1603" y="668" width="2" height="1" fill="#000"/>
<rect x="1603" y="725" width="2" height="1" fill="#000"/>
<rect x="1603" y="798" width="2" height="1" fill="#000"/>
</g>
<text transform="translate(1607,634) scale(1,1.1)" x="0" y="0" text-rendering="geometricPrecision" stroke-width="0.2" stroke="#000" font-size="9" fill="#000">45.7866</text>
<text transform="translate(1607,672) scale(1,1.1)" x="0" y="0" text-rendering="geometricPrecision" stroke-width="0.2" stroke="#000" font-size="9" fill="#000">0.00</text>
<text transform="translate(1607,718) scale(1,1.1)" x="0" y="0" text-rendering="geometricPrecision" stroke-width="0.2" stroke="#000" font-size="9" fill="#000">-56.1425</text>
<text transform="translate(1607,734) scale(1,1.1)" x="0" y="0" text-rendering="geometricPrecision" stroke-width="0.2" stroke="#000" font-size="9" fill="#000">100</text>
<text transform="translate(1607,743) scale(1,1.1)" x="0" y="0" text-rendering="geometricPrecision" stroke-width="0.2" stroke="#000" font-size="9" fill="#000">80</text>
<text transform="translate(1607,765) scale(1,1.1)" x="0" y="0" text-rendering="geometricPrecision" stroke-width="0.2" stroke="#000" font-size="9" fill="#000">50</text>
<text transform="translate(1607,791) scale(1,1.1)" x="0" y="0" text-rendering="geometricPrecision" stroke-width="0.2" stroke="#000" font-size="9" fill="#000">15</text>
<text transform="translate(1607,796) scale(1,1.1)" x="0" y="0" text-rendering="geometricPrecision" stroke-width="0.2" stroke="#000" font-size="9" fill="#000">0</text>
<g shape-rendering="crispEdges">
<rect x="5" y="800" width="1" height="3" fill="#000"/>
<rect x="69" y="800" width="1" height="3" fill="#000"/>
<rect x="133" y="800" width="1" height="3" fill="#000"/>
<rect x="197" y="800" width="1" height="3" fill="#000"/>
<rect x="261" y="800" width="1" height="3" fill="#000"/>
<rect x="325" y="800" width="1" height="3" fill="#000"/>
<rect x="389" y="800" width="1" height="3" fill="#000"/>
<rect x="453" y="800" width="1" height="3" fill="#000"/>
<rect x="517" y="800" width="1" height="3" fill="#000"/>
<rect x="581" y="800" width="1" height="3" fill="#000"/>
<rect x="645" y="800" width="1" height="3" fill="#000"/>
<rect x="709" y="800" width="1" height="3" fill="#000"/>
<rect x="773" y="800" width="1" height="3" fill="#000"/>
<rect x="837" y="800" width="1" height="3" fill="#000"/>
<rect x="901" y="800" width="1" height="3" fill="#000"/>
<rect x="965" y="800" width="1" height="3" fill="#000"/>
<rect x="1029" y="800" width="1" height="3" fill="#000"/>
<rect x="1093" y="800" width="1" height="3" fill="#000"/>
<rect x="1157" y="800" width="1" height="3" fill="#000"/>
<rect x="1221" y="800" width="1" height="3" fill="#000"/>
</g>
<text transform="translate(5,812) scale(1,1.1)" x="0" y="0" text-rendering="geometricPrecision" stroke-width="0.2" stroke="#000" font-size="9" fill="#000">13 Sep 2022</text>
<text transform="translate(69,812) scale(1,1.1)" x="0" y="0" text-rendering="geometricPrecision" stroke-width="0.2" stroke="#000" font-size="9" fill="#000">13 Sep 16:00</text>
<text transform="translate(133,812) scale(1,1.1)" x="0" y="0" text-rendering="geometricPrecision" stroke-width="0.2" stroke="#000" font-size="9" fill="#000">14 Sep 08:00</text>
<text transform="translate(197,812) scale(1,1.1)" x="0" y="0" text-rendering="geometricPrecision" stroke-width="0.2" stroke="#000" font-size="9" fill="#000">15 Sep 00:00</text>
<text transform="translate(261,812) scale(1,1.1)" x="0" y="0" text-rendering="geometricPrecision" stroke-width="0.2" stroke="#000" font-size="9" fill="#000">15 Sep 16:00</text>
<text transform="translate(325,812) scale(1,1.1)" x="0" y="0" text-rendering="geometricPrecision" stroke-width="0.2" stroke="#000" font-size="9" fill="#000">16 Sep 08:00</text>
<text transform="translate(389,812) scale(1,1.1)" x="0" y="0" text-rendering="geometricPrecision" stroke-width="0.2" stroke="#000" font-size="9" fill="#000">19 Sep 00:00</text>
<text transform="translate(453,812) scale(1,1.1)" x="0" y="0" text-rendering="geometricPrecision" stroke-width="0.2" stroke="#000" font-size="9" fill="#000">19 Sep 16:00</text>
<text transform="translate(517,812) scale(1,1.1)" x="0" y="0" text-rendering="geometricPrecision" stroke-width="0.2" stroke="#000" font-size="9" fill="#000">20 Sep 08:00</text>
<text transform="translate(581,812) scale(1,1.1)" x="0" y="0" text-rendering="geometricPrecision" stroke-width="0.2" stroke="#000" font-size="9" fill="#000">21 Sep 00:00</text>
<text transform="translate(645,812) scale(1,1.1)" x="0" y="0" text-rendering="geometricPrecision" stroke-width="0.2" stroke="#000" font-size="9" fill="#000">21 Sep 16:00</text>
<text transform="translate(709,812) scale(1,1.1)" x="0" y="0" text-rendering="geometricPrecision" stroke-width="0.2" stroke="#000" font-size="9" fill="#000">22 Sep 08:00</text>
<text transform="translate(773,812) scale(1,1.1)" x="0" y="0" text-rendering="geometricPrecision" stroke-width="0.2" stroke="#000" font-size="9" fill="#000">23 Sep 00:00</text>
<text transform="translate(837,812) scale(1,1.1)" x="0" y="0" text-rendering="geometricPrecision" stroke-width="0.2" stroke="#000" font-size="9" fill="#000">23 Sep 16:00</text>
<text transform="translate(901,812) scale(1,1.1)" x="0" y="0" text-rendering="geometricPrecision" stroke-width="0.2" stroke="#000" font-size="9" fill="#000">26 Sep 08:00</text>
<text transform="translate(965,812) scale(1,1.1)" x="0" y="0" text-rendering="geometricPrecision" stroke-width="0.2" stroke="#000" font-size="9" fill="#000">27 Sep 00:00</text>
<text transform="translate(1029,812) scale(1,1.1)" x="0" y="0" text-rendering="geometricPrecision" stroke-width="0.2" stroke="#000" font-size="9" fill="#000">27 Sep 16:00</text>
<text transform="translate(1093,812) scale(1,1.1)" x="0" y="0" text-rendering="geometricPrecision" stroke-width="0.2" stroke="#000" font-size="9" fill="#000">28 Sep 08:00</text>
<text transform="translate(1157,812) scale(1,1.1)" x="0" y="0" text-rendering="geometricPrecision" stroke-width="0.2" stroke="#000" font-size="9" fill="#000">29 Sep 00:00</text>
<text transform="translate(1221,812) scale(1,1.1)" x="0" y="0" text-rendering="geometricPrecision" stroke-width="0.2" stroke="#000" font-size="9" fill="#000">29 Sep 16:00</text>
</svg>
</body></html>
